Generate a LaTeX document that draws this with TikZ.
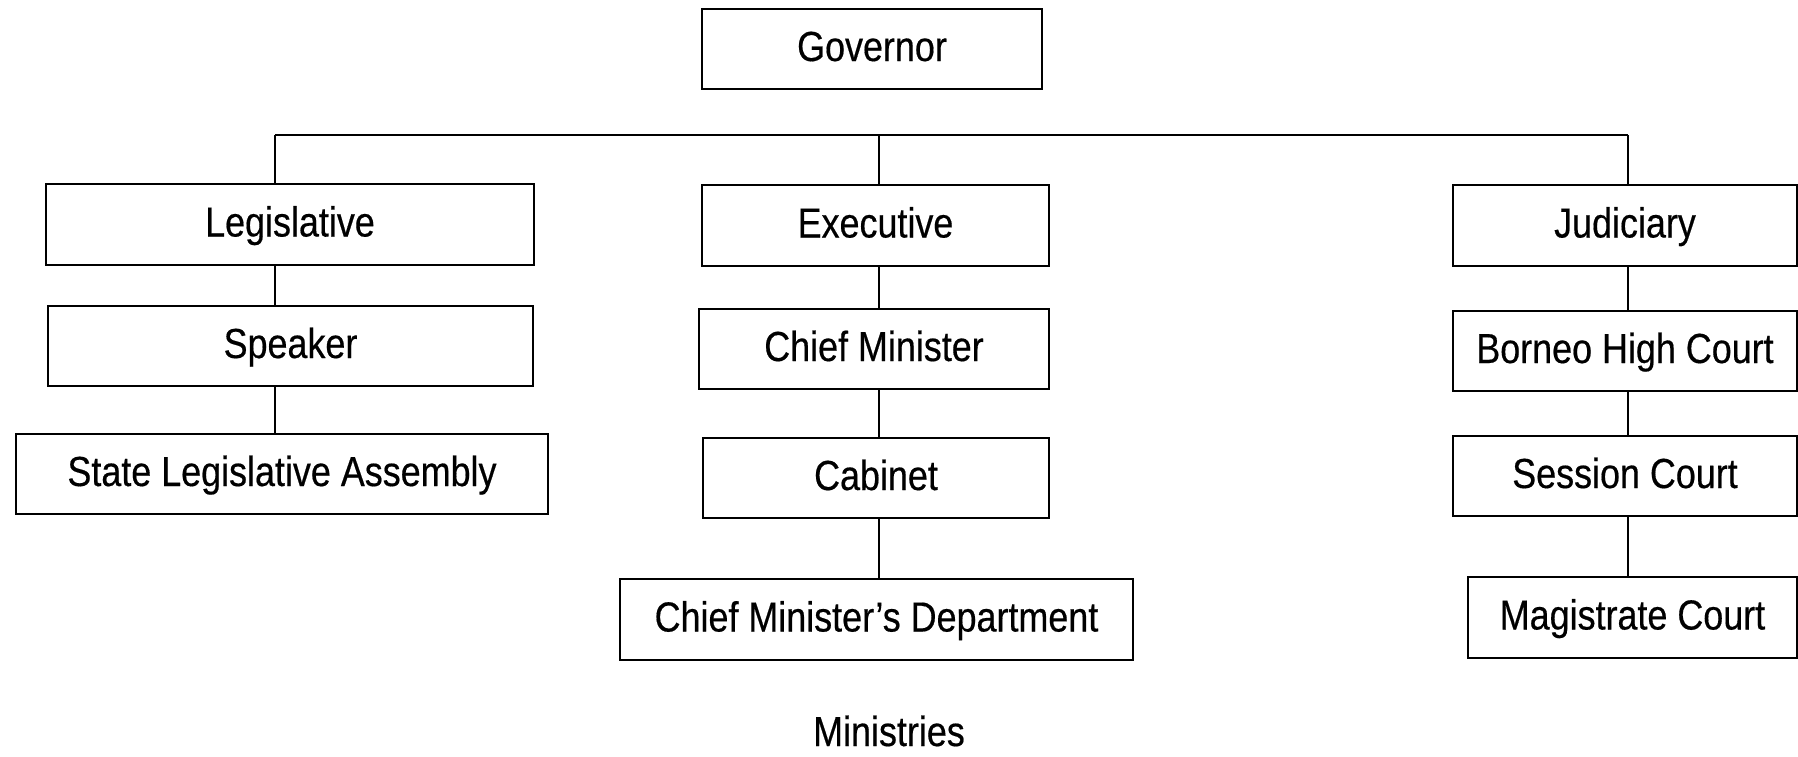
\documentclass[tikz,border=0pt]{standalone}
\usepackage{fontspec}
\setmainfont[FakeStretch=0.855,FakeBold=0.4]{Liberation Sans}
\begin{document}
\begin{tikzpicture}[x=0.5pt,y=-0.5pt,
  orgbox/.style={draw, line width=1.3pt, inner sep=0pt,
    font=\fontsize{21}{24}\selectfont, text height=15pt, text depth=3pt, align=center},
  plain/.style={inner sep=0pt, font=\fontsize{21}{24}\selectfont, text height=15pt, text depth=3pt},
  link/.style={line width=0.8pt},
  bar/.style={line width=1.2pt}]
\useasboundingbox (0,0) rectangle (1798,756);
% nodes
\node[orgbox, minimum width=170pt, minimum height=40pt] (gov) at (872,49) {Governor};
\node[orgbox, minimum width=244pt, minimum height=40.5pt] (leg) at (290,224.5) {Legislative};
\node[orgbox, minimum width=242.5pt, minimum height=40pt] (spk) at (290.5,346) {Speaker};
\node[orgbox, minimum width=266pt, minimum height=40pt] (sla) at (282,474) {State Legislative Assembly};
\node[orgbox, minimum width=173.5pt, minimum height=40.5pt] (exe) at (875.5,225.5) {Executive};
\node[orgbox, minimum width=175pt, minimum height=40pt] (cm) at (874,349) {Chief Minister};
\node[orgbox, minimum width=173pt, minimum height=40pt] (cab) at (876,478) {Cabinet};
\node[orgbox, minimum width=256.5pt, minimum height=40.5pt] (cmd) at (876.5,619.5) {Chief Minister’s Department};
\node[orgbox, minimum width=172pt, minimum height=40.5pt] (jud) at (1625,225.5) {Judiciary};
\node[orgbox, minimum width=172pt, minimum height=40pt] (bhc) at (1625,351) {Borneo High Court};
\node[orgbox, minimum width=172pt, minimum height=40pt] (ses) at (1625,476) {Session Court};
\node[orgbox, minimum width=164.5pt, minimum height=40.5pt] (mag) at (1632.5,617.5) {Magistrate Court};
\node[plain] (min) at (889,734) {Ministries};
% connectors
\coordinate (bl) at (275,135);
\coordinate (bm) at (879,135);
\coordinate (br) at (1628,135);
\draw[bar] (bl) -- (br);
\draw[link] (bl) -- (bl |- leg.north);
\draw[link] (bm) -- (bm |- exe.north);
\draw[link] (br) -- (br |- jud.north);
\draw[link] (leg.south -| bl) -- (spk.north -| bl);
\draw[link] (spk.south -| bl) -- (sla.north -| bl);
\draw[link] (exe.south -| bm) -- (cm.north -| bm);
\draw[link] (cm.south -| bm) -- (cab.north -| bm);
\draw[link] (cab.south -| bm) -- (cmd.north -| bm);
\draw[link] (jud.south -| br) -- (bhc.north -| br);
\draw[link] (bhc.south -| br) -- (ses.north -| br);
\draw[link] (ses.south -| br) -- (mag.north -| br);
\end{tikzpicture}
\end{document}
